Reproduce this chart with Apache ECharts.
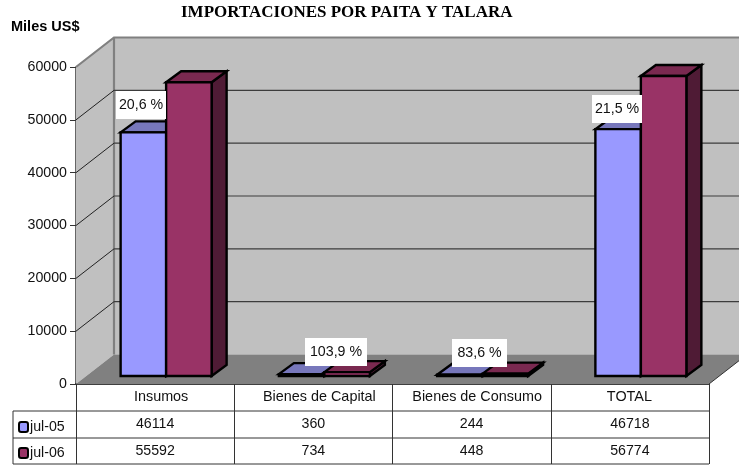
<!DOCTYPE html>
<html><head><meta charset="utf-8">
<style>html,body{margin:0;padding:0;background:#fff}#c{width:739px;height:465px}</style>
<script src="https://cdn.jsdelivr.net/npm/echarts@6/dist/echarts.min.js"></script>
</head><body><div id="c"></div>
<script>
const categories = ['Insumos','Bienes de Capital','Bienes de Consumo','TOTAL'];
const jul05 = [46114,360,244,46718];
const jul06 = [55592,734,448,56774];
const seriesNames = ['jul-05','jul-06'];
const yTicks = [0,10000,20000,30000,40000,50000,60000];
const pctLabels = ['20,6 %','103,9 %','83,6 %','21,5 %'];

const FONT = '"Liberation Sans", Arial, sans-serif';
const FS = 14.2;
const WALL = {dx:38, dy:-29.5};
const BARFRONT = {dx:11, dy:-8};
const BARDEPTH = {dx:15, dy:-11};
const BARFRAC = 0.2875;
const labelBoxes = [[116,91,50,28],[305,338,62,28],[452,339,55,28],[592,95,50,28]];
const catLabelShift = [6,6,5.5,-0.5];

function wallsItem(params, api){
  const r = params.coordSys, x0=r.x, x1=r.x+r.width, yT=r.y, yB=r.y+r.height;
  const d=WALL;
  const edge={stroke:'#808080',lineWidth:2.2};
  return {type:'group',silent:true,children:[
    {type:'polygon',shape:{points:[[x0+d.dx,yT+d.dy],[x1+d.dx,yT+d.dy],[x1+d.dx,yB+d.dy],[x0+d.dx,yB+d.dy]]},style:{fill:'#C0C0C0',stroke:null}},
    {type:'polygon',shape:{points:[[x0,yT],[x0+d.dx,yT+d.dy],[x0+d.dx,yB+d.dy],[x0,yB]]},style:{fill:'#C0C0C0',stroke:null}},
    {type:'polygon',shape:{points:[[x0,yB],[x0+d.dx,yB+d.dy],[x1+d.dx,yB+d.dy],[x1,yB]]},style:{fill:'#808080',stroke:null}},
    {type:'polyline',shape:{points:[[x0,yT],[x0+d.dx,yT+d.dy],[x1+d.dx,yT+d.dy]]},style:{fill:null,...edge}},
    {type:'line',shape:{x1:x0+d.dx,y1:yT+d.dy,x2:x0+d.dx,y2:yB+d.dy},style:edge},
    {type:'line',shape:{x1:x1,y1:yB,x2:x1+d.dx,y2:yB+d.dy},style:{stroke:'#333',lineWidth:1}}
  ]};
}
function gridItem(params, api){
  const v=api.value(0), r=params.coordSys;
  if(v===0||v===60000) return {type:'group',children:[]};
  const y=api.coord([0,v])[1], d=WALL, s={stroke:'#3c3c3c',lineWidth:1.2};
  return {type:'group',silent:true,children:[
    {type:'line',shape:{x1:r.x,y1:y,x2:r.x+d.dx,y2:y+d.dy},style:{stroke:'#222',lineWidth:1}},
    {type:'line',shape:{x1:r.x+d.dx,y1:y+d.dy,x2:r.x+r.width+d.dx,y2:y+d.dy},style:s}
  ]};
}
function barRenderer(slot, cFront, cTop, cSide){
  return function(params, api){
    const i=api.value(0), v=api.value(1);
    const cw=api.size([1,0])[0], w=cw*BARFRAC;
    const c=api.coord([i,0]), t=api.coord([i,v]);
    const xl=c[0]+BARFRONT.dx+(slot-1)*w, xr=xl+w;
    const yb=c[1]+BARFRONT.dy, yt=t[1]+BARFRONT.dy;
    const dx=BARDEPTH.dx, dy=BARDEPTH.dy;
    const st=f=>({fill:f,stroke:'#000',lineWidth:2.4,lineJoin:'miter'});
    return {type:'group',silent:true,children:[
      {type:'polygon',shape:{points:[[xr,yb],[xr+dx,yb+dy],[xr+dx,yt+dy],[xr,yt]]},style:st(cSide)},
      {type:'polygon',shape:{points:[[xl,yt],[xl+dx,yt+dy],[xr+dx,yt+dy],[xr,yt]]},style:st(cTop)},
      {type:'polygon',shape:{points:[[xl,yb],[xl,yt],[xr,yt],[xr,yb]]},style:st(cFront)}
    ]};
  };
}
function tableItem(params, api){
  const i=api.value(0), x=api.coord([i,0])[0];
  const txt=(t,xx,y,fs)=>({type:'text',style:{text:String(t),x:xx,y:y,align:'center',verticalAlign:'middle',font:fs+'px '+FONT,fill:'#111'}});
  return {type:'group',silent:true,children:[
    txt(categories[i],x+catLabelShift[i],397.5,14.4),
    txt(api.value(1),x,424,FS),txt(api.value(2),x,451,FS)]};
}

const rows=[411,438,464];
const graphics=[
  ...rows.map(y=>({type:'line',shape:{x1:13,y1:y,x2:709,y2:y},style:{stroke:'#333',lineWidth:1},z:5})),
  {type:'line',shape:{x1:13,y1:411,x2:13,y2:464},style:{stroke:'#333',lineWidth:1},z:5},
  {type:'text',left:181,top:4,style:{text:'IMPORTACIONES POR PAITA Y TALARA',font:'bold 17px "Liberation Serif", serif',fill:'#000'},z:5},
  {type:'text',left:11,top:19,style:{text:'Miles US$',font:'bold 14.5px '+FONT,fill:'#000'},z:5},
  ...pctLabels.map((t,i)=>{const b=labelBoxes[i];return {type:'group',z:20,children:[
    {type:'rect',shape:{x:b[0],y:b[1],width:b[2],height:b[3]},style:{fill:'#fff'},z:20},
    {type:'text',x:b[0]+b[2]/2,y:b[1]+b[3]/2,style:{text:t,align:'center',verticalAlign:'middle',font:FS+'px '+FONT,fill:'#111'},z:21}
  ]};})
];

const chart=echarts.init(document.getElementById('c'),null,{renderer:'canvas'});
chart.setOption({
  animation:false,
  backgroundColor:'#fff',
  grid:{left:76,top:67,width:633,height:317,containLabel:false},
  legend:{
    data:seriesNames.map(n=>({name:n,icon:'roundRect'})),
    orient:'vertical',left:18,top:420,itemWidth:9,itemHeight:10,itemGap:12,selectedMode:false,
    textStyle:{fontFamily:FONT,fontSize:FS,color:'#111',padding:[1,0,0,-3]},padding:0
  },
  xAxis:{type:'category',data:categories,
    axisLine:{show:true,lineStyle:{color:'#000',width:1.5}},
    axisTick:{show:true,length:80,lineStyle:{color:'#333',width:1}},
    axisLabel:{show:false},
    splitLine:{show:false}},
  yAxis:{type:'value',min:0,max:60000,interval:10000,
    axisLine:{show:true,lineStyle:{color:'#333',width:1.5}},
    axisTick:{show:true,length:6,lineStyle:{color:'#333',width:1}},
    axisLabel:{fontFamily:FONT,fontSize:FS,color:'#111',margin:9,formatter:v=>String(v)},
    splitLine:{show:false}},
  graphic:graphics,
  series:[
    {type:'custom',name:'walls',z:1,data:[[0]],renderItem:wallsItem,silent:true,clip:false},
    {type:'custom',name:'grid',z:2,data:yTicks.map(v=>[v]),renderItem:gridItem,silent:true,clip:false},
    {type:'custom',name:seriesNames[0],z:3,itemStyle:{color:'#9999FF',borderColor:'#000',borderWidth:2},
      data:jul05.map((v,i)=>[i,v]),renderItem:barRenderer(0,'#9999FF','#7777BB','#4C4C80'),clip:false},
    {type:'custom',name:seriesNames[1],z:4,itemStyle:{color:'#993366',borderColor:'#000',borderWidth:2},
      data:jul06.map((v,i)=>[i,v]),renderItem:barRenderer(1,'#993366','#7A2950','#4F1B35'),clip:false},
    {type:'custom',name:'table',z:5,data:categories.map((c,i)=>[i,jul05[i],jul06[i]]),renderItem:tableItem,silent:true,clip:false}
  ]
});
</script></body></html>
